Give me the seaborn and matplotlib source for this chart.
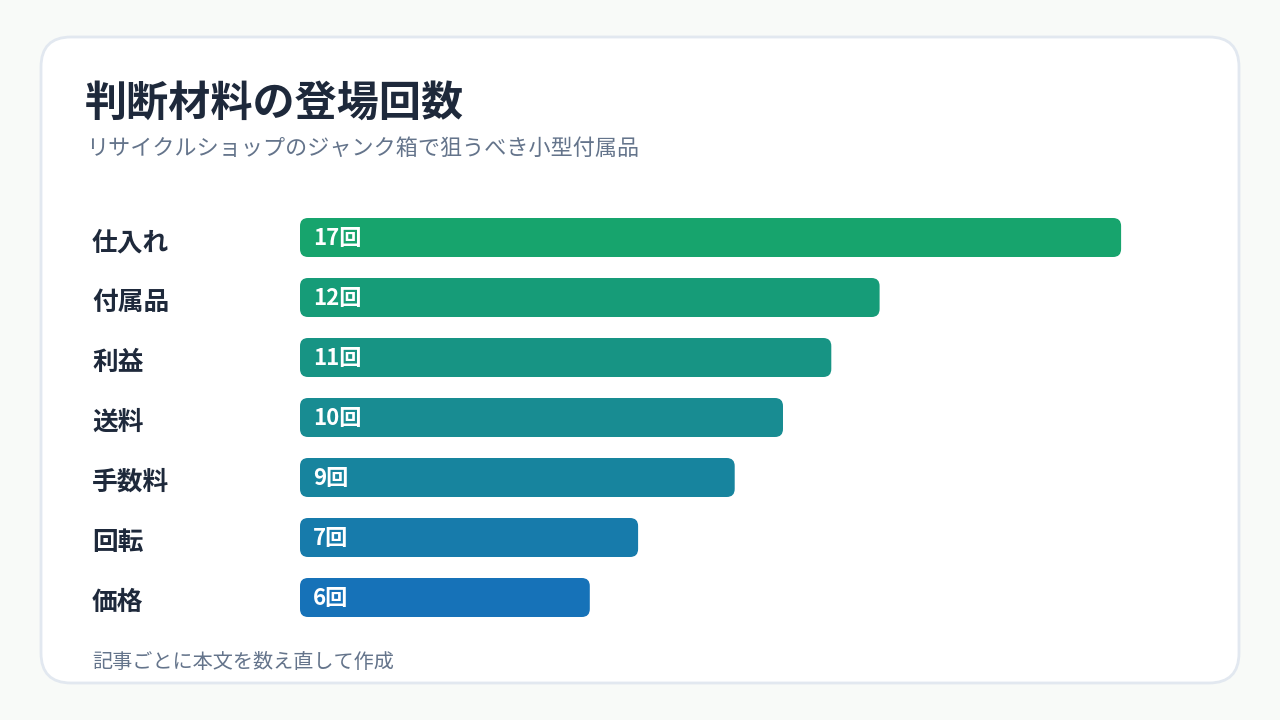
import matplotlib
matplotlib.use("Agg")
import matplotlib.pyplot as plt
import seaborn as sns
import pandas as pd
from matplotlib.patches import FancyBboxPatch
from matplotlib.transforms import IdentityTransform

terms = ["仕入れ", "付属品", "利益", "送料", "手数料", "回転", "価格"]
counts = [17, 12, 11, 10, 9, 7, 6]
bar_colors = ["#17a46d", "#169c78", "#179484", "#188c92", "#17849e", "#177bab", "#1672b8"]

title = "判断材料の登場回数"
subtitle = "リサイクルショップのジャンク箱で狙うべき小型付属品"
footnote = "記事ごとに本文を数え直して作成"

sns.set_theme(style="white")
plt.rcParams["font.family"] = ["Noto Sans CJK JP", "DejaVu Sans"]

df = pd.DataFrame({"term": terms, "count": counts})

W, H = 1280, 720
fig = plt.figure(figsize=(W / 100, H / 100), dpi=100)
fig.patch.set_facecolor("#f8faf8")

# card behind everything
card = FancyBboxPatch((41, 37), 1198, 646,
                      boxstyle="round,pad=0,rounding_size=30",
                      transform=IdentityTransform(),
                      facecolor="white", edgecolor="#e2e8f0", linewidth=2,
                      zorder=-5)
fig.patches.append(card)

px_per_unit = 48.3
row_h = 60
ax_left, ax_right = 300, 1180
top_px, bottom_px = 237.5 - row_h / 2, 597.5 + row_h / 2
ax = fig.add_axes([ax_left / W, (H - bottom_px) / H,
                   (ax_right - ax_left) / W, (bottom_px - top_px) / H])
ax.set_facecolor("none")
ax.set_zorder(2)

sns.barplot(data=df, x="count", y="term", hue="term", palette=bar_colors,
            saturation=1, legend=False, width=0.65, ax=ax, orient="h")

ax.set_xlim(0, (ax_right - ax_left) / px_per_unit)
ax.set_ylim(len(terms) - 0.5, -0.5)

# swap the plain bars for rounded ones
r_px = 8
for p in list(ax.patches):
    x0, y0 = p.get_x(), p.get_y()
    w, h = p.get_width(), p.get_height()
    fc = p.get_facecolor()
    p.remove()
    ax.add_patch(FancyBboxPatch((x0, y0), w, h,
                                boxstyle=f"round,pad=0,rounding_size={r_px / px_per_unit}",
                                mutation_aspect=px_per_unit / row_h,
                                facecolor=fc, edgecolor="none"))

for i, c in enumerate(counts):
    ax.text(13 / px_per_unit, i + 0.02, f"{c}回", color="white", fontsize=16,
            fontweight="bold", va="center", ha="left")

ax.set_xlabel("")
ax.set_ylabel("")
ax.set_xticks([])
ax.set_yticks([])
sns.despine(ax=ax, left=True, bottom=True)

for i, t in enumerate(terms):
    fig.text(92 / W, 1 - (237.5 + i * row_h + 5) / H, t, fontsize=18.5,
             fontweight="bold", color="#1e293b", va="center", ha="left")

fig.text(85 / W, 1 - 104 / H, title, fontsize=30.3, fontweight="bold",
         color="#1e293b", va="center", ha="left")
fig.text(86 / W, 1 - 149 / H, subtitle, fontsize=15.9, color="#64748b",
         va="center", ha="left")
fig.text(92 / W, 1 - 662 / H, footnote, fontsize=14.5, color="#64748b",
         va="center", ha="left")

fig.savefig("out.png", dpi=100, facecolor=fig.get_facecolor())
